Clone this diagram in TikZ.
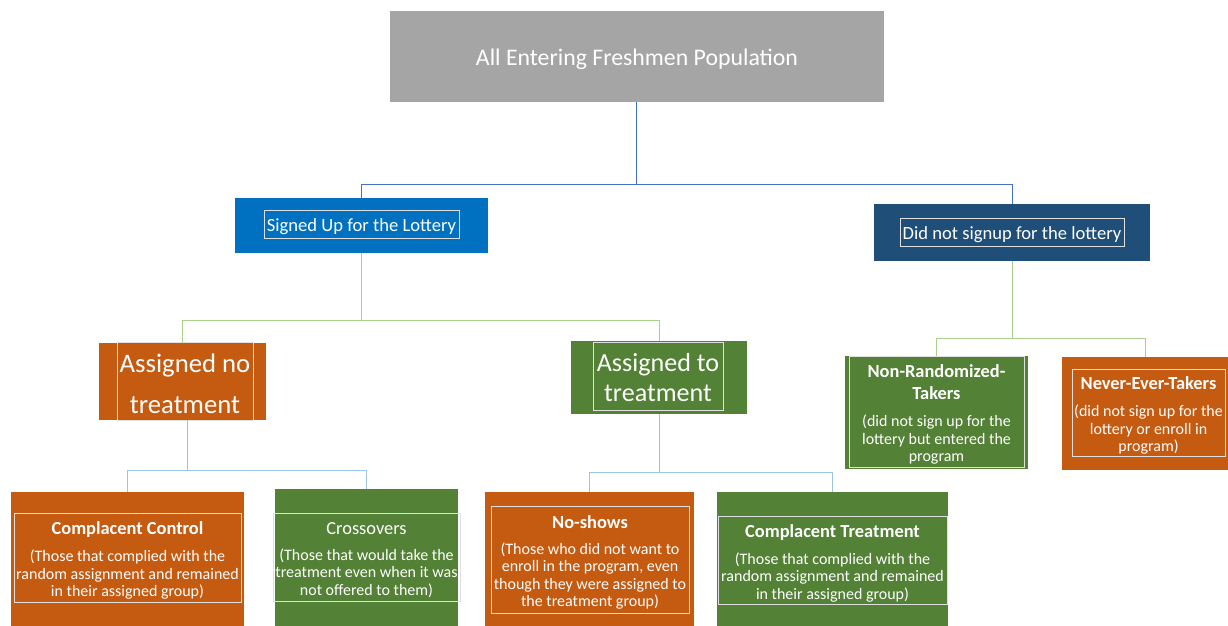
\documentclass[tikz,border=0pt]{standalone}
\usepackage{fontspec}
\setmainfont{Carlito}
\definecolor{cgray}{HTML}{A5A5A5}
\definecolor{cblue}{HTML}{0070C0}
\definecolor{cdblue}{HTML}{1F4E79}
\definecolor{corange}{HTML}{C55A11}
\definecolor{cgreen}{HTML}{538135}
\definecolor{lblue}{HTML}{4472C4}
\definecolor{lgreen}{HTML}{A9D18E}
\definecolor{llblue}{HTML}{9DC3E6}
\newcommand{\hd}{\fontsize{18.4}{22}\selectfont\bfseries}
\tikzset{
  box/.style={rectangle, inner sep=0pt, draw=none},
  bord/.style={rectangle, inner sep=0pt, draw=white!75!gray, line width=0.8pt},
  txt/.style={inner sep=0pt, text=white, align=center},
  bodyf/.style={font=\fontsize{16}{17.5}\selectfont},
  con/.style={line width=1pt},
}
\begin{document}
\begin{tikzpicture}[x=1pt,y=-1pt]
\useasboundingbox (0,0) rectangle (1228,625);
\begin{scope}
\clip (0,0) rectangle (1228,625);
% main boxes
\node[box, fill=cgray, minimum width=494pt, minimum height=91pt] (top) at (637,56.5) {};
\node[box, fill=cblue, minimum width=253pt, minimum height=55pt] (sig) at (361.5,225.5) {};
\node[box, fill=cdblue, minimum width=276pt, minimum height=57pt] (dn) at (1012,232.5) {};
\node[box, fill=corange, minimum width=167pt, minimum height=77pt] (ano) at (182.5,381.5) {};
\node[box, fill=cgreen, minimum width=176pt, minimum height=73pt] (ato) at (659,377.5) {};
\node[box, fill=cgreen, minimum width=183pt, minimum height=113pt] (nrt) at (936.5,412.5) {};
\node[box, fill=corange, minimum width=166pt, minimum height=113pt] (net) at (1145,413.5) {};
\node[box, fill=corange, minimum width=233pt, minimum height=140pt] (cc) at (127.5,562) {};
\node[box, fill=cgreen, minimum width=183pt, minimum height=143pt] (cr) at (366.5,560.5) {};
\node[box, fill=corange, minimum width=209pt, minimum height=140pt] (ns) at (589.5,562) {};
\node[box, fill=cgreen, minimum width=231pt, minimum height=140pt] (ct) at (832.5,562) {};
% inner text-box borders
\node[bord, minimum width=195pt, minimum height=28pt] (sigb) at (361.5,224) {};
\node[bord, minimum width=224pt, minimum height=28pt] (dnb) at (1012,232) {};
\node[bord, minimum width=136pt, minimum height=78pt] (anob) at (185,381) {};
\node[bord, minimum width=130pt, minimum height=68pt] (atob) at (658,376) {};
\node[bord, minimum width=175pt, minimum height=111pt] (nrtb) at (936.5,411.5) {};
\node[bord, minimum width=153pt, minimum height=87pt] (netb) at (1148.5,412.5) {};
\node[bord, minimum width=227pt, minimum height=89pt] (ccb) at (127.5,557.5) {};
\node[bord, minimum width=187pt, minimum height=88pt] (crb) at (366.5,557) {};
\node[bord, minimum width=198pt, minimum height=107pt] (nsb) at (590,559.5) {};
\node[bord, minimum width=229pt, minimum height=88pt] (ctb) at (832.5,560) {};
% texts
\node[txt, font=\fontsize{23.8}{28}\selectfont] (topt) at ([yshift=-3pt]top.center) {All Entering Freshmen Population};
\node[txt, font=\fontsize{18.6}{22}\selectfont] (sigt) at ([yshift=-2.5pt]sigb.center) {Signed Up for the Lottery};
\node[txt, font=\fontsize{18.6}{22}\selectfont] (dnt) at ([yshift=-2.5pt]dnb.center) {Did not signup for the lottery};
\node[txt, font=\fontsize{26.7}{41}\selectfont] (anot) at ([yshift=-2.5pt]anob.center) {Assigned no\\treatment};
\node[txt, font=\fontsize{26.1}{30}\selectfont] (atot) at ([yshift=-2pt]atob.center) {Assigned to\\treatment};
\node[txt, bodyf] (nrtt) at ([yshift=-3pt]nrtb.center)
  {{\hd Non-Randomized-}\\[4.5pt]{\hd Takers}\\[9.5pt](did not sign up for the\\lottery but entered the\\program};
\node[txt, bodyf] (nett) at ([yshift=-3pt]netb.center)
  {{\hd Never-Ever-Takers}\\[9.5pt](did not sign up for the\\lottery or enroll in\\program)};
\node[txt, bodyf] (cct) at ([yshift=-3pt]ccb.center)
  {{\hd Complacent Control}\\[9.5pt](Those that complied with the\\random assignment and remained\\in their assigned group)};
\node[txt, bodyf] (crt) at ([yshift=-3pt]crb.center)
  {{\hd\mdseries Crossovers}\\[8.5pt](Those that would take the\\treatment even when it was\\not offered to them)};
\node[txt, bodyf] (nst) at ([yshift=-3pt]nsb.center)
  {{\hd No-shows}\\[8.5pt](Those who did not want to\\enroll in the program, even\\though they were assigned to\\the treatment group)};
\node[txt, bodyf] (ctt) at ([yshift=-3pt]ctb.center)
  {{\hd Complacent Treatment}\\[9.5pt](Those that complied with the\\random assignment and remained\\in their assigned group)};
\end{scope}
% connectors
\draw[con, lblue] (top.south) ++(-1,0) coordinate (tops) -- ++(0,82) -| (sig.north);
\draw[con, lblue] (tops) -- ++(0,82) -| (dn.north);
\draw[con, lgreen] (sig.south) -- ++(0,67.5) -| (ano.north);
\draw[con, lgreen] (sig.south) -- ++(0,67.5) -| (ato.north);
\draw[con, lgreen] (dn.south) -- ++(0,77) -| (nrt.north);
\draw[con, lgreen] (dn.south) -- ++(0,77) -| (net.north);
\draw[con, llblue] (anob.south) ++(2,0) coordinate (anos) -- ++(0,50) -| (cc.north);
\draw[con, llblue] (anos) -- ++(0,50) -| (cr.north);
\draw[con, llblue] (ato.south) -- ++(0,58) -| (ns.north);
\draw[con, llblue] (ato.south) -- ++(0,58) -| (ct.north);
\end{tikzpicture}
\end{document}
